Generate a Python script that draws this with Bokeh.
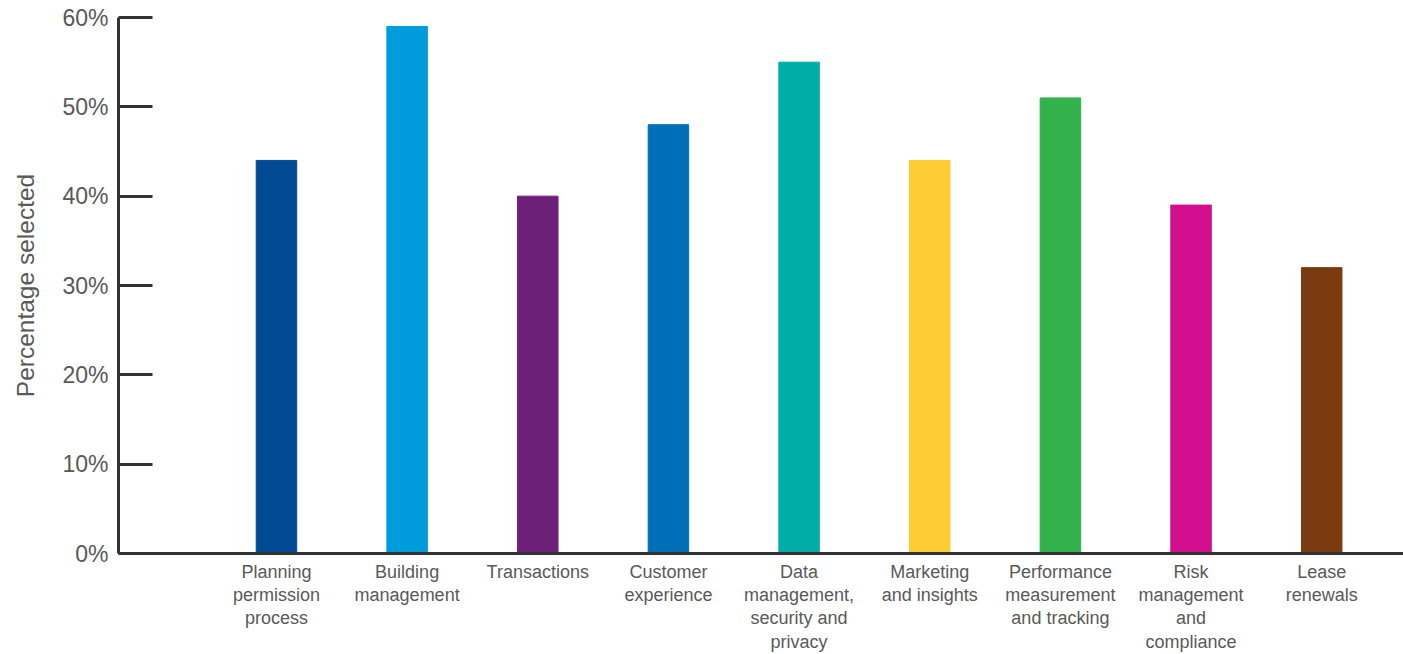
from bokeh.plotting import figure
from bokeh.models import Range1d, FixedTicker
from bokeh.embed import file_html
from bokeh.resources import INLINE

categories = [
    "Planning\npermission\nprocess",
    "Building\nmanagement",
    "Transactions",
    "Customer\nexperience",
    "Data\nmanagement,\nsecurity and\nprivacy",
    "Marketing\nand insights",
    "Performance\nmeasurement\nand tracking",
    "Risk\nmanagement\nand\ncompliance",
    "Lease\nrenewals",
]
values = [44, 59, 40, 48, 55, 44, 51, 39, 32]
colors = ["#004B94", "#009BDB", "#6D2077", "#006FB8", "#00ADA7",
          "#FDCC33", "#32B24A", "#D20F8C", "#7B3B10"]
y_ticks = [0, 10, 20, 30, 40, 50, 60]
y_tick_labels = ["0%", "10%", "20%", "30%", "40%", "50%", "60%"]

positions = list(range(1, len(categories) + 1))

FONT = "Liberation Sans"
GRAY = "#595959"

p = figure(width=1403, height=654, output_backend="svg", toolbar_location=None,
           x_range=Range1d(-0.209, 9.626), y_range=Range1d(0, 60),
           min_border_left=118, min_border_right=0, min_border_top=17,
           min_border_bottom=101)
p.outline_line_color = None
p.xgrid.visible = False
p.ygrid.visible = False
p.background_fill_color = "white"

p.vbar(x=positions, top=values, bottom=0, width=0.31, color=colors)

# y axis
ya = p.yaxis[0]
ya.ticker = FixedTicker(ticks=y_ticks)
ya.major_label_overrides = {t: l for t, l in zip(y_ticks, y_tick_labels)}
ya.minor_tick_line_color = None
ya.major_tick_in = 34
ya.major_tick_out = 0
ya.major_tick_line_width = 3
ya.major_tick_line_color = "#333333"
ya.axis_line_width = 3
ya.axis_line_color = "#333333"
ya.major_label_standoff = 10
ya.major_label_text_font = FONT
ya.major_label_text_font_size = "23px"
ya.major_label_text_color = GRAY
ya.axis_label = "Percentage selected"
ya.axis_label_text_font = FONT
ya.axis_label_text_font_size = "24.5px"
ya.axis_label_text_font_style = "normal"
ya.axis_label_text_color = GRAY
ya.axis_label_standoff = 20

# x axis with multi-line category labels
xa = p.xaxis[0]
xa.ticker = FixedTicker(ticks=positions)
xa.major_label_overrides = {x: c for x, c in zip(positions, categories)}
xa.minor_tick_line_color = None
xa.major_tick_line_color = None
xa.major_tick_in = 0
xa.major_tick_out = 0
xa.major_label_standoff = 8
xa.major_label_text_font = FONT
xa.major_label_text_font_size = "18px"
xa.major_label_text_color = GRAY
xa.major_label_text_line_height = 1.17
xa.axis_line_width = 3
xa.axis_line_color = "#333333"

open("out.html", "w").write(file_html(p, INLINE))
